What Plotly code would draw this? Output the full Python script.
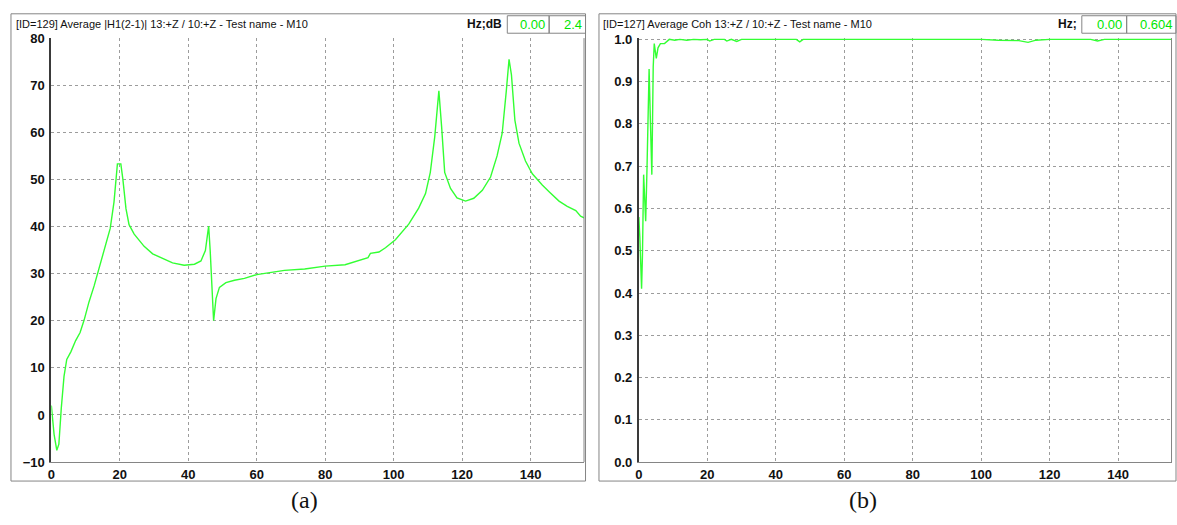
import plotly.graph_objects as go

W, H = 1177, 525

# ---------------- data ----------------
freq_a = [0, 0.8, 1.6, 2.2, 2.9, 3.7, 4.5, 5.7, 7.1, 8.4, 9.6, 11.0, 12.5, 14.0, 15.4,
          17.2, 18.3, 19.3, 20.3, 20.9, 21.8, 22.7, 24.2, 27.1, 29.6, 32.5, 35.4, 38.8,
          41.8, 43.7, 45.0, 45.95, 46.4, 47.4, 48.1, 49.1, 51.0, 53.5, 56.4, 60, 68.1,
          74, 80, 85.8, 89.8, 92.5, 93.2, 95.7, 97.6, 100.5, 104.4, 107.3, 109.3, 110.7,
          112, 113.2, 114, 114.9, 116.6, 118.5, 121, 123.4, 125.9, 128.3, 130.2, 131.7,
          132.9, 133.7, 134.4, 135.4, 136.6, 138.5, 140.5, 143.4, 145.4, 148.3, 150.7,
          153.2, 154.6, 156.6]
h1_db = [2.0, -4.1, -7.5, -6.2, 1.4, 8.2, 11.8, 13.4, 15.8, 17.5, 20.2, 24.0, 27.4, 31.2,
         34.9, 39.6, 45.2, 53.3, 53.3, 50.0, 43.8, 40.4, 38.4, 35.8, 34.2, 33.2, 32.3,
         31.8, 32.0, 32.7, 34.9, 40.1, 34.9, 20.0, 24.7, 27.1, 28.1, 28.6, 29.0, 29.8,
         30.7, 31.0, 31.6, 31.9, 32.8, 33.4, 34.3, 34.6, 35.5, 37.2, 40.5, 43.9, 47.0,
         51.5, 59.1, 68.8, 61.2, 51.5, 48.1, 46.1, 45.4, 46.0, 47.7, 50.5, 55.0, 59.8,
         68.8, 75.5, 72.2, 62.6, 57.7, 53.9, 51.2, 48.8, 47.4, 45.4, 44.3, 43.4, 42.2,
         41.5]

freq_b = [0, 0.3, 0.8, 1.06, 1.4, 1.7, 2.0, 2.4, 2.7, 3.0, 3.4, 3.8, 4.2, 4.5, 5.1, 5.6,
          6.3, 7.5, 8.9, 10.5, 12, 14, 16, 18, 20, 20.7, 22, 25, 25.7, 27, 28.6, 30, 40,
          46, 47, 48, 60, 80, 100, 105, 108, 111, 113.7, 116, 120, 132, 134, 136, 156.6]
coh = [0.58, 0.53, 0.41, 0.49, 0.68, 0.63, 0.57, 0.70, 0.81, 0.93, 0.80, 0.68, 0.935,
       0.99, 0.955, 0.98, 0.99, 0.99, 1.0, 0.998, 1.0, 0.998, 1.0, 0.999, 1.0, 0.996,
       1.0, 1.0, 0.996, 1.0, 0.995, 1.0, 1.0, 1.0, 0.994, 1.0, 1.0, 1.0, 1.0, 0.998,
       0.997, 0.997, 0.993, 0.998, 1.0, 1.0, 0.996, 1.0, 1.0]

x_ticks = [0, 20, 40, 60, 80, 100, 120, 140]
ya_ticks = [-10, 0, 10, 20, 30, 40, 50, 60, 70, 80]
yb_ticks = [0.0, 0.1, 0.2, 0.3, 0.4, 0.5, 0.6, 0.7, 0.8, 0.9, 1.0]

title_a = "[ID=129] Average |H1(2-1)| 13:+Z / 10:+Z - Test name - M10"
title_b = "[ID=127] Average Coh 13:+Z / 10:+Z - Test name - M10"
unit_a, unit_b = "Hz;dB", "Hz;"
vals_a = ["0.00", "2.4"]
vals_b = ["0.00", "0.604"]
captions = ["(a)", "(b)"]

# ---------------- helpers ----------------
def px(x):
    return x / W

def py(y):
    return 1 - y / H

NARROW = "Liberation Sans Narrow, Arial Narrow, Liberation Sans, Arial, sans-serif"
GREEN = "#33ff33"
GRID = "#9c9c9c"
FRAME = "#858585"

fig = go.Figure()
fig.add_trace(go.Scatter(x=freq_a, y=h1_db, mode="lines", xaxis="x", yaxis="y",
                         line=dict(color=GREEN, width=1.4), showlegend=False))
fig.add_trace(go.Scatter(x=freq_b, y=coh, mode="lines", xaxis="x2", yaxis="y2",
                         line=dict(color=GREEN, width=1.4), showlegend=False))

plot_top, plot_bot = 32, 468.5
xa = (47.5, 582)
xb = (637, 1171.5)

tickfont = dict(family=NARROW, size=13, color="#111", weight="bold")
common_x = dict(range=[0, 155.6], tickvals=x_ticks, showgrid=True, gridcolor=GRID,
                griddash="dot", gridwidth=1, zeroline=False, showline=True,
                linecolor=FRAME, linewidth=1, ticks="", tickfont=tickfont,
                fixedrange=True)
common_y = dict(showgrid=True, gridcolor=GRID, griddash="dot", gridwidth=1,
                zeroline=False, showline=True, linecolor="#3a3a3a", linewidth=2,
                ticks="", tickfont=tickfont, fixedrange=True, ticklabelstandoff=2)

fig.update_layout(
    width=W, height=H, margin=dict(l=0, r=0, t=0, b=0),
    paper_bgcolor="white", plot_bgcolor="white", showlegend=False,
    xaxis=dict(domain=[px(xa[0]), px(xa[1])], anchor="y", **common_x),
    yaxis=dict(domain=[py(plot_bot), py(plot_top)], anchor="x", range=[-10, 80],
               tickvals=ya_ticks, **common_y),
    xaxis2=dict(domain=[px(xb[0]), px(xb[1])], anchor="y2", **common_x),
    yaxis2=dict(domain=[py(plot_bot), py(plot_top)], anchor="x2", range=[0, 1.003],
                tickvals=yb_ticks, tickformat=".1f", **common_y),
)

shapes = []
def rect(x0, y0, x1, y1, color=FRAME, width=1):
    shapes.append(dict(type="rect", xref="paper", yref="paper",
                       x0=px(x0), x1=px(x1), y0=py(y1), y1=py(y0),
                       line=dict(color=color, width=width), fillcolor="rgba(0,0,0,0)",
                       layer="above"))

def vline(x, y0, y1, color=FRAME, width=1):
    shapes.append(dict(type="line", xref="paper", yref="paper",
                       x0=px(x), x1=px(x), y0=py(y0), y1=py(y1),
                       line=dict(color=color, width=width), layer="above"))

# outer frames
rect(7, 7, 583.5, 488)
rect(597, 7, 1176, 488)
# plot right edges
vline(xa[1], plot_top, plot_bot)
vline(xb[1], plot_top, plot_bot)
# header value boxes
rect(505, 9, 547, 27)
rect(547, 9, 583.5, 27)
rect(1081.5, 9, 1126.5, 27)
rect(1126.5, 9, 1176, 27)
fig.update_layout(shapes=shapes)

ann = []
def text(x, y, s, anchor="left", color="#111", size=13, family=NARROW, weight="normal"):
    ann.append(dict(xref="paper", yref="paper", x=px(x), y=py(y), text=s,
                    showarrow=False, xanchor=anchor, yanchor="middle",
                    font=dict(family=family, size=size, color=color, weight=weight)))

text(10, 18, title_a, size=11)
text(502, 18, unit_a, anchor="right", weight="bold", size=12)
text(545, 18, vals_a[0], anchor="right", color="#00e600")
text(582, 18, vals_a[1], anchor="right", color="#00e600")

text(599, 18, title_b, size=11)
text(1079, 18, unit_b, anchor="right", weight="bold", size=12)
text(1124, 18, vals_b[0], anchor="right", color="#00e600")
text(1175, 18, vals_b[1], anchor="right", color="#00e600")

text(302, 508, captions[0], anchor="center", size=24, family="Liberation Serif, Times New Roman, serif")
text(862, 508, captions[1], anchor="center", size=24, family="Liberation Serif, Times New Roman, serif")
fig.update_layout(annotations=ann)

fig.write_html(
    "out.html",
    config={"displayModeBar": False, "staticPlot": True},
    post_script="document.body.style.margin='0';document.body.style.padding='0';"
                "document.body.style.overflow='hidden';",
)
